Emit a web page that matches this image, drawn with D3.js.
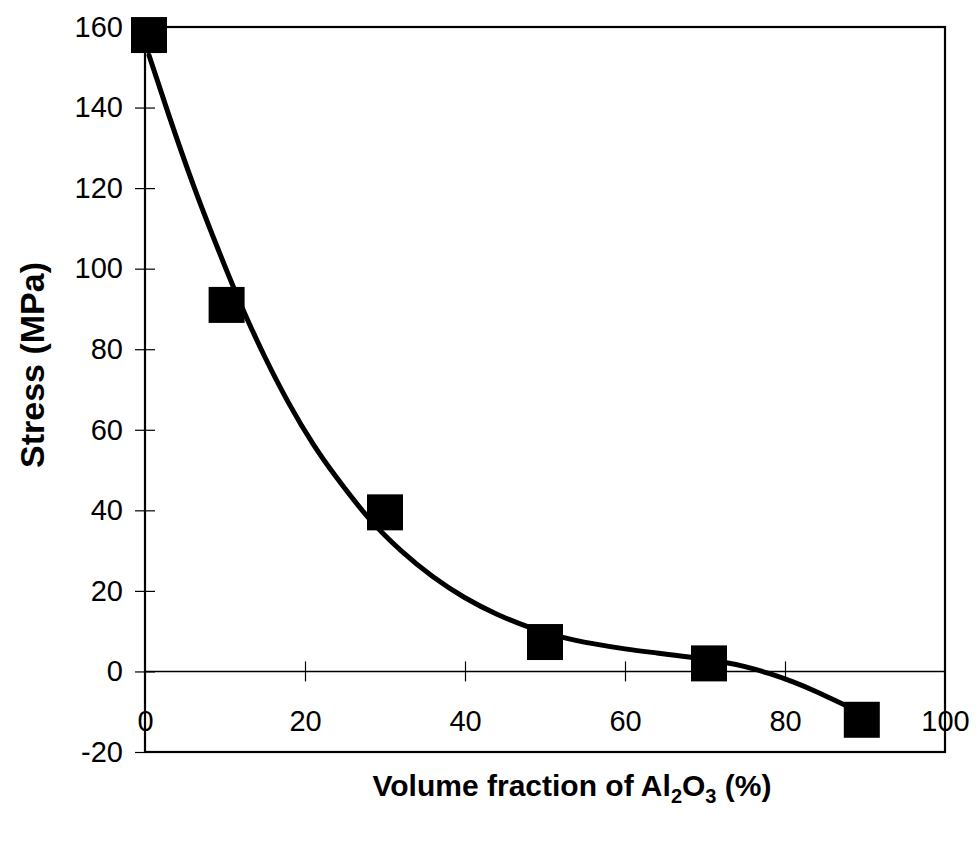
<!DOCTYPE html>
<html>
<head>
<meta charset="utf-8">
<script src="https://cdn.jsdelivr.net/npm/d3@7/dist/d3.min.js"></script>
<style>
  body { margin: 0; background: #fff; }
  svg { display: block; font-family: "Liberation Sans", Arial, sans-serif; }
  .axis text { font-size: 29px; fill: #000; }
</style>
</head>
<body>
<svg id="graph" width="977" height="842"></svg>
<script>
// measured points
const volume_fraction = [0.5, 10.2, 30, 50, 70.5, 89.6];
const stress = [158, 91, 39.5, 7.3, 2, -12];

// trend line
const trend_x = [0.5, 3, 6, 9, 12, 15, 18, 21, 24, 28, 32, 36, 40, 44, 48, 52, 56, 60, 64, 68, 72, 75, 78, 81, 84, 88.5];
const trend_y = [153, 138, 121, 105.5, 91, 78, 66.5, 56.5, 48, 38, 30, 23.5, 18.3, 14.2, 11, 8.6, 6.9, 5.6, 4.6, 3.6, 2.4, 1.2, -0.5, -2.6, -5.1, -9.3];

const x_ticks = [0, 20, 40, 60, 80, 100];
const y_ticks = [-20, 0, 20, 40, 60, 80, 100, 120, 140, 160];

const svg = d3.select('#graph');
const margin = {top: 27, right: 32, bottom: 90, left: 145};
const width = +svg.attr('width') - margin.left - margin.right;
const height = +svg.attr('height') - margin.top - margin.bottom;

const x = d3.scaleLinear().domain([0, 100]).range([0, width]);
const y = d3.scaleLinear().domain([-20, 160]).range([height, 0]);
const fmt = d => String(d);

const g = svg.append('g').attr('transform', 'translate(' + margin.left + ',' + margin.top + ')');

// y axis, ticks cross the line
g.append('g').attr('class', 'axis')
    .call(d3.axisLeft(y).tickValues(y_ticks).tickSize(10).tickPadding(12).tickFormat(fmt))
    .call(s => s.select('.domain').remove());
g.append('g').attr('class', 'axis')
    .call(d3.axisLeft(y).tickValues(y_ticks.slice(1, -1)).tickSize(-10).tickFormat(''))
    .call(s => s.select('.domain').remove());

// x axis on the zero line
g.append('g').attr('class', 'axis').attr('transform', 'translate(0,' + y(0) + ')')
    .call(d3.axisBottom(x).tickValues(x_ticks).tickSize(0).tickPadding(39).tickFormat(fmt))
    .call(s => s.select('.domain').remove());
g.append('g').attr('class', 'axis').attr('transform', 'translate(0,' + y(0) + ')')
    .call(d3.axisBottom(x).tickValues(x_ticks.slice(1, -1)).tickSize(10).tickFormat(''))
    .call(s => s.select('.domain').remove());
g.append('g').attr('class', 'axis').attr('transform', 'translate(0,' + y(0) + ')')
    .call(d3.axisBottom(x).tickValues(x_ticks.slice(1, -1)).tickSize(-10).tickFormat(''))
    .call(s => s.select('.domain').remove());

g.selectAll('.axis line').attr('stroke', '#000').attr('stroke-width', 1.2);

g.append('line')
    .attr('x1', 0).attr('x2', width)
    .attr('y1', y(0)).attr('y2', y(0))
    .attr('stroke', '#000').attr('stroke-width', 1.5);

// frame
g.append('rect')
    .attr('x', 0).attr('y', 0)
    .attr('width', width).attr('height', height)
    .attr('fill', 'none')
    .attr('stroke', '#000')
    .attr('stroke-width', 2.2);

// trend line
const trend = trend_x.map((v, i) => ({x: v, y: trend_y[i]}));
const line = d3.line().x(d => x(d.x)).y(d => y(d.y)).curve(d3.curveNatural);
g.append('path')
    .datum(trend)
    .attr('fill', 'none')
    .attr('stroke', '#000')
    .attr('stroke-width', 5)
    .attr('stroke-linejoin', 'round')
    .attr('stroke-linecap', 'round')
    .attr('d', line);

// markers
const sq = 36;
g.selectAll('rect.pt')
    .data(volume_fraction.map((v, i) => ({x: v, y: stress[i]})))
    .enter().append('rect')
    .attr('class', 'pt')
    .attr('x', d => x(d.x) - sq / 2)
    .attr('y', d => y(d.y) - sq / 2)
    .attr('width', sq).attr('height', sq)
    .attr('fill', '#000');

// axis titles
svg.append('text')
    .attr('transform', 'translate(44,365) rotate(-90)')
    .style('text-anchor', 'middle')
    .style('font-weight', 'bold')
    .style('font-size', '34px')
    .text('Stress (MPa)');

const xl = svg.append('text')
    .attr('x', 572).attr('y', 796)
    .style('text-anchor', 'middle')
    .style('font-weight', 'bold')
    .style('font-size', '30px');
xl.append('tspan').text('Volume fraction of Al');
xl.append('tspan').attr('dy', 7).style('font-size', '20px').text('2');
xl.append('tspan').attr('dy', -7).text('O');
xl.append('tspan').attr('dy', 7).style('font-size', '20px').text('3');
xl.append('tspan').attr('dy', -7).text(' (%)');
</script>
</body>
</html>
